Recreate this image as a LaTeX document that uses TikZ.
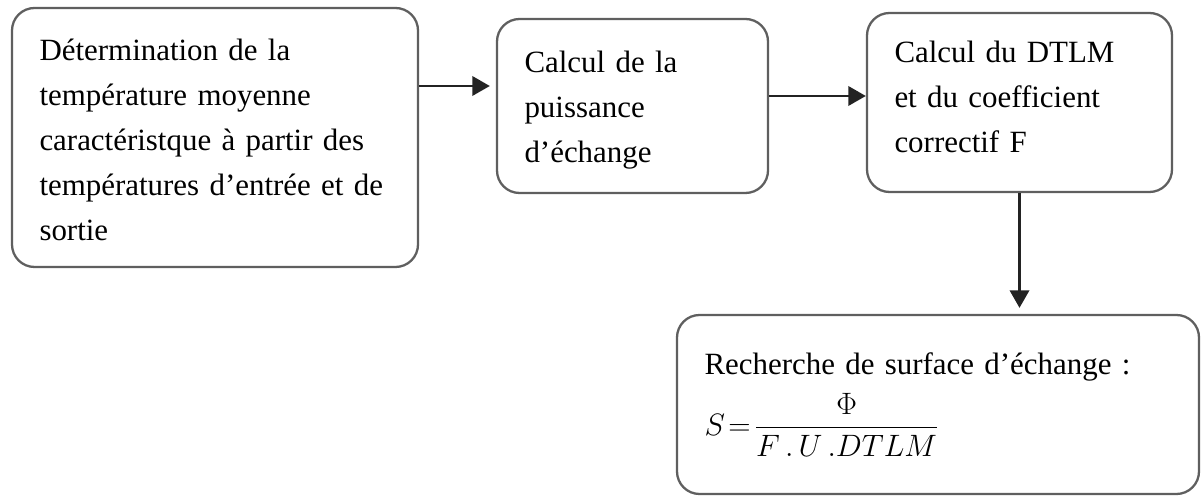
\documentclass[tikz,border=0pt]{standalone}
\usepackage{fix-cm}
\usepackage{amsmath}
\usepackage{fontspec}
\setmainfont{Liberation Serif}
\usepackage{tikz}
\usetikzlibrary{arrows.meta}
\definecolor{boxline}{RGB}{95,95,95}
\definecolor{arrline}{RGB}{35,35,35}
\tikzset{
  bx/.style  ={draw=boxline, line width=1.3pt, rounded corners=0.45cm, fill=white,
               align=left, inner xsep=0.55cm, inner ysep=0pt,
               font=\fontsize{17.6pt}{25.6pt}\selectfont},
  arr/.style ={draw=arrline, line width=1.5pt, -{Triangle[length=10pt,width=11pt]}},
}
\begin{document}
\begin{tikzpicture}
  \useasboundingbox (0,0) rectangle (24.02,9.90);
  \node[bx, minimum width=8.12cm, minimum height=5.18cm, text width=7.02cm] (det) at (4.30,7.15)
    {\rule{0pt}{15pt}D\'etermination de la\\temp\'erature moyenne\\caract\'eristque \`a partir des\\\mbox{temp\'eratures d’entr\'ee et de}\\sortie};
  \node[bx, minimum width=5.42cm, minimum height=3.48cm, text width=4.32cm] (puis) at (12.65,7.78)
    {\rule{0pt}{17pt}Calcul de la\\puissance\\d’\'echange};
  \node[bx, minimum width=6.10cm, minimum height=3.58cm, text width=5.00cm] (dtlm) at (20.39,7.85)
    {Calcul du DTLM\\et du coefficient\\correctif F\rule[-7pt]{0pt}{0pt}};
  \node[bx, minimum width=10.44cm, minimum height=3.58cm, text width=9.34cm] (surf) at (18.76,1.81)
    {Recherche de surface d’\'echange :\\[6pt]
     $S\!=\!\dfrac{\Phi}{F\,.\,U\,.DTLM}$};
  \coordinate (a1) at ([yshift=1.03cm]det.east);
  \coordinate (a2) at ([yshift=0.20cm]puis.east);
  \draw[arr, shorten >=0.12cm] (a1) -- (a1 -| puis.west);
  \draw[arr] (a2) -- (a2 -| dtlm.west);
  \draw[arr, shorten >=0.12cm] (dtlm.south) -- (dtlm.south |- surf.north);
\end{tikzpicture}
\end{document}
